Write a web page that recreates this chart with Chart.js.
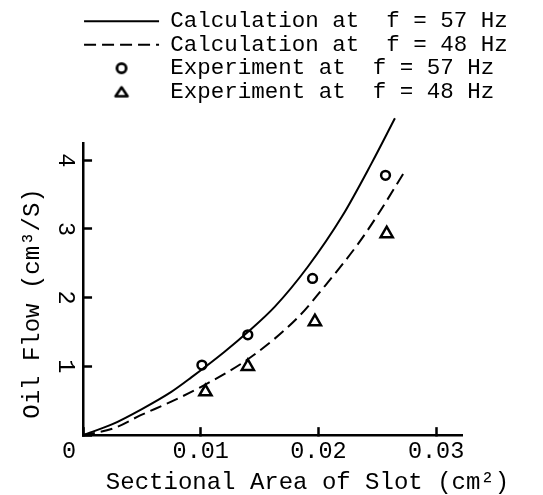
<!DOCTYPE html>
<html>
<head>
<meta charset="utf-8">
<script src="https://cdn.jsdelivr.net/npm/chart.js@4/dist/chart.umd.min.js"></script>
<style>
html,body{margin:0;padding:0;background:#fff;}
canvas{display:block;}
</style>
</head>
<body>
<canvas id="c" width="543" height="495"></canvas>
<script>
// ---- data ----
const calcArea57 = [0, 0.0025, 0.005, 0.0075, 0.0092, 0.012, 0.014, 0.0163, 0.0191, 0.022, 0.0245, 0.0265];
const calcFlow57 = [0, 0.16, 0.38, 0.63, 0.84, 1.21, 1.50, 1.87, 2.45, 3.18, 3.95, 4.61];
const calcArea48 = [0, 0.0026, 0.0049, 0.0074, 0.01, 0.0143, 0.0183, 0.0205, 0.0234, 0.0251, 0.0272];
const calcFlow48 = [0, 0.10, 0.29, 0.48, 0.70, 1.14, 1.72, 2.16, 2.79, 3.22, 3.80];
const expArea57 = [0.0101, 0.0140, 0.0195, 0.0257];
const expFlow57 = [1.02, 1.46, 2.28, 3.78];
const expArea48 = [0.0104, 0.0140, 0.0197, 0.0258];
const expFlow48 = [0.63, 1.00, 1.65, 2.93];
const seriesLabels = [
  'Calculation at  f = 57 Hz',
  'Calculation at  f = 48 Hz',
  'Experiment at  f = 57 Hz',
  'Experiment at  f = 48 Hz'
];
const xTickLabels = {0: '0  ', 0.01: '0.01', 0.02: '0.02', 0.03: '0.03'};
const yTickLabels = {0: '', 1: '1', 2: '2', 3: '3', 4: '4'};
const xTitle = '     Sectional Area of Slot (cm\u00B2)';
const yTitle = 'Oil Flow (cm\u00B3/S)  ';

const FONT = "'Liberation Mono', 'Courier New', monospace";
const INK = '#000';

function pts(xs, ys) { return xs.map((x, i) => ({x: x, y: ys[i]})); }

// legend icons for the hollow markers
const circleIcon = document.createElement('canvas');
circleIcon.width = 16; circleIcon.height = 16;
(function () {
  const g = circleIcon.getContext('2d');
  g.strokeStyle = INK; g.lineWidth = 2.8;
  g.beginPath(); g.arc(8, 8, 4.6, 0, Math.PI * 2); g.stroke();
})();
const triangleIcon = document.createElement('canvas');
triangleIcon.width = 18; triangleIcon.height = 14;
(function () {
  const g = triangleIcon.getContext('2d');
  g.strokeStyle = INK; g.lineWidth = 2.6; g.lineJoin = 'round';
  g.beginPath(); g.moveTo(9, 2.5); g.lineTo(15, 11.5); g.lineTo(3, 11.5); g.closePath(); g.stroke();
})();

Chart.defaults.font.family = FONT;
Chart.defaults.color = INK;

// let the legend text run past the plot's right edge, like the original
const wideLegend = {
  id: 'wideLegend',
  afterLayout(chart) {
    const lg = chart.legend;
    if (lg) { lg.right = chart.width; lg.width = lg.right - lg.left; }
  }
};

const chart = new Chart(document.getElementById('c'), {
  type: 'scatter',
  data: {
    datasets: [
      {
        label: seriesLabels[0], data: pts(calcArea57, calcFlow57), showLine: true,
        borderColor: INK, borderWidth: 2, pointRadius: 0, pointHoverRadius: 0,
        cubicInterpolationMode: 'monotone', clip: false, fill: false
      },
      {
        label: seriesLabels[1], data: pts(calcArea48, calcFlow48), showLine: true,
        borderColor: INK, borderWidth: 2, borderDash: [12, 6], pointRadius: 0, pointHoverRadius: 0,
        cubicInterpolationMode: 'monotone', clip: false, fill: false
      },
      {
        label: seriesLabels[2], data: pts(expArea57, expFlow57), showLine: false,
        pointStyle: 'circle', pointRadius: 4.4, borderWidth: 2.5,
        borderColor: INK, backgroundColor: 'rgba(255,255,255,0)', clip: false
      },
      {
        label: seriesLabels[3], data: pts(expArea48, expFlow48), showLine: false,
        pointStyle: 'triangle', pointRadius: 7, borderWidth: 2.5,
        borderColor: INK, backgroundColor: 'rgba(255,255,255,0)', clip: false
      }
    ]
  },
  options: {
    responsive: false,
    animation: false,
    devicePixelRatio: 1,
    events: [],
    layout: { padding: { top: 9, left: 0, right: 0, bottom: 0 } },
    scales: {
      x: {
        type: 'linear', min: 0, max: 0.0322,
        grid: { drawOnChartArea: false, drawTicks: true, tickLength: -8, tickWidth: 2.5, tickColor: INK },
        border: { display: true, color: INK, width: 2.5 },
        ticks: {
          stepSize: 0.01, includeBounds: false, maxRotation: 0, autoSkip: false,
          padding: 12, color: INK,
          font: { size: 23.5, lineHeight: 1.1 },
          callback: (v) => { const k = Math.round(v * 100) / 100; return xTickLabels[k] !== undefined ? xTickLabels[k] : ''; }
        },
        title: { display: false }
      },
      y: {
        type: 'linear', min: 0, max: 4.25,
        grid: { drawOnChartArea: false, drawTicks: true, tickLength: -9, tickWidth: 2.5, tickColor: INK },
        border: { display: true, color: INK, width: 2.5 },
        ticks: {
          stepSize: 1, includeBounds: false, minRotation: -90, maxRotation: -90,
          crossAlign: 'center', padding: 20, color: INK,
          font: { size: 23.5, lineHeight: 1.1 },
          callback: (v) => (yTickLabels[v] !== undefined ? yTickLabels[v] : '')
        },
        title: {
          display: true, text: yTitle, color: INK,
          font: { size: 24, lineHeight: 1.1 },
          padding: { top: 19.8, bottom: 31.7 }
        }
      },
      ySpacer: {
        type: 'linear', position: 'right', min: 0, max: 1, display: true,
        grid: { display: false, drawTicks: false },
        border: { display: false },
        ticks: { display: false },
        title: { display: true, text: '', font: { size: 81, lineHeight: 1 }, padding: 0 }
      }
    },
    plugins: {
      tooltip: { enabled: false },
      legend: {
        display: true, position: 'top', align: 'start', fullSize: false,
        labels: {
          usePointStyle: true, pointStyleWidth: 75, boxHeight: 7.5,
          padding: 1, color: INK,
          font: { size: 22.5, lineHeight: 1.1 },
          generateLabels: (ch) => {
            const items = Chart.defaults.plugins.legend.labels.generateLabels(ch);
            items.forEach((it) => {
              const ds = ch.data.datasets[it.datasetIndex];
              if (ds.showLine) {
                it.pointStyle = 'line';
                it.lineDash = ds.borderDash || [];
                it.lineWidth = ds.borderWidth;
                it.strokeStyle = INK;
              } else if (ds.pointStyle === 'circle') {
                it.pointStyle = circleIcon;
              } else if (ds.pointStyle === 'triangle') {
                it.pointStyle = triangleIcon;
              }
            });
            return items;
          }
        }
      },
      subtitle: {
        display: true, position: 'top', weight: 1, text: '',
        font: { size: 10, lineHeight: 1 }, padding: { top: 20, bottom: 0 }
      },
      title: {
        display: true, position: 'bottom', fullSize: true, align: 'center',
        text: xTitle, color: INK,
        font: { size: 24, lineHeight: 1.1, weight: 'normal' },
        padding: { top: -7.2, bottom: -1.2 }
      }
    }
  },
  plugins: [wideLegend]
});
</script>
</body>
</html>
